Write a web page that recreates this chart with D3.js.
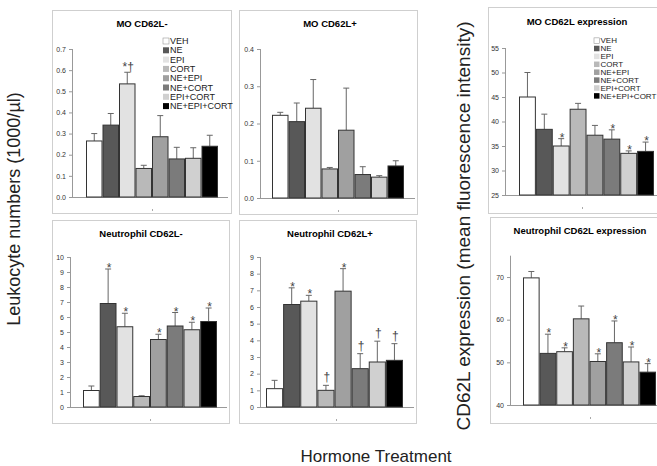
<!DOCTYPE html>
<html>
<head>
<meta charset="utf-8">
<script src="https://cdn.jsdelivr.net/npm/d3@7"></script>
<style>
  body { margin: 0; background: #fff; }
  svg { font-family: "Liberation Sans", Arial, sans-serif; }
  .frame { fill: #fff; stroke: #cfcfcf; stroke-width: 1; }
  .axis path, .axis line { stroke: #999; }
  .axis text { fill: #333; font-size: 7px; }
  .bar { stroke: #333; stroke-width: 1; }
  .err { stroke: #666; stroke-width: 1; }
  .title { font-size: 9.5px; font-weight: bold; text-anchor: middle; }
  .note { font-size: 12px; fill: #444; text-anchor: middle; }
  .legend text { fill: #222; }
  .big { fill: #222; }
</style>
</head>
<body>
<script>
// treatments (legend order)
var treatments = ['VEH', 'NE', 'EPI', 'CORT', 'NE+EPI', 'NE+CORT', 'EPI+CORT', 'NE+EPI+CORT'];
var fills = ['#ffffff', '#585858', '#e2e2e2', '#b9b9b9', '#a0a0a0', '#7b7b7b', '#d0d0d0', '#000000'];

// MO CD62L- (1000/ul)
var moNegMean = [0.265, 0.34, 0.535, 0.135, 0.285, 0.18, 0.183, 0.24];
var moNegErr  = [0.035, 0.055, 0.055, 0.015, 0.10, 0.055, 0.05, 0.052];
var moNegNote = ['', '', '*†', '', '', '', '', ''];

// MO CD62L+
var moPosMean = [0.222, 0.205, 0.241, 0.078, 0.182, 0.063, 0.056, 0.086];
var moPosErr  = [0.008, 0.05, 0.077, 0.004, 0.113, 0.021, 0.004, 0.014];
var moPosNote = ['', '', '', '', '', '', '', ''];

// MO CD62L expression (MFI)
var moExpMean = [45.0, 38.4, 35.0, 42.5, 37.2, 36.4, 33.5, 33.9];
var moExpErr  = [5.0, 3.1, 1.5, 1.2, 2.0, 1.9, 0.5, 1.9];
var moExpNote = ['', '', '*', '', '', '*', '*', '*'];

// Neutrophil CD62L-
var neNegMean = [1.1, 6.9, 5.35, 0.7, 4.5, 5.4, 5.15, 5.7];
var neNegErr  = [0.3, 2.3, 0.9, 0.05, 0.35, 0.9, 0.5, 0.9];
var neNegNote = ['', '*', '*', '', '*', '*', '*', '*'];

// Neutrophil CD62L+
var nePosMean = [1.1, 6.15, 6.35, 1.0, 6.95, 2.3, 2.7, 2.8];
var nePosErr  = [0.5, 1.0, 0.35, 0.3, 1.35, 0.9, 1.25, 1.0];
var nePosNote = ['', '*', '*', '†', '*', '†', '†', '†'];

// Neutrophil CD62L expression (MFI)
var neExpMean = [69.8, 52.1, 52.5, 60.2, 50.2, 54.6, 50.1, 47.7];
var neExpErr  = [1.5, 4.5, 0.9, 3.0, 1.8, 5.1, 3.5, 2.0];
var neExpNote = ['', '*', '*', '', '*', '*', '*', '*'];

var W = 657, H = 466;
var svg = d3.select('body').append('svg').attr('width', W).attr('height', H);

// layout of each panel: frame box, axis x, plot bottom/top, bar span
var panels = [
  {title: 'MO CD62L-', mean: moNegMean, err: moNegErr, note: moNegNote,
   frame: [52, 10, 231, 213], ax: 72, y: [197, 49], dom: [0, 0.7], ticks: d3.range(0, 0.71, 0.1), fmt: d3.format('.1f'),
   bars: [86, 218], right: 228, titleX: 142, titleY: 27, tickX: 152,
   legend: {x: 163, y: 41, step: 9.3, size: 6, font: 9}},
  {title: 'MO CD62L+', mean: moPosMean, err: moPosErr, note: moPosNote,
   frame: [239, 10, 417, 214], ax: 260, y: [198, 49], dom: [0, 0.4], ticks: [0, 0.1, 0.2, 0.3, 0.4], fmt: d3.format('.1f'),
   bars: [272, 404], right: 415, titleX: 330, titleY: 27, tickX: 338},
  {title: 'MO CD62L expression', mean: moExpMean, err: moExpErr, note: moExpNote,
   frame: [488, 7, 680, 213], ax: 505, y: [195, 48], dom: [25, 55], ticks: [25, 30, 35, 40, 45, 50, 55], fmt: d3.format('d'),
   bars: [519, 654], right: 660, titleX: 577, titleY: 25, tickX: 582,
   legend: {x: 594, y: 40.6, step: 7.9, size: 5.5, font: 8}},
  {title: 'Neutrophil CD62L-', mean: neNegMean, err: neNegErr, note: neNegNote,
   frame: [52, 220, 229, 423], ax: 70, y: [407, 257], dom: [0, 10], ticks: d3.range(0, 11), fmt: d3.format('d'),
   bars: [83, 217], right: 227, titleX: 141, titleY: 237, tickX: 150},
  {title: 'Neutrophil CD62L+', mean: nePosMean, err: nePosErr, note: nePosNote,
   frame: [239, 220, 416, 423], ax: 260, y: [407, 257], dom: [0, 9], ticks: d3.range(0, 10), fmt: d3.format('d'),
   bars: [266, 403], right: 414, titleX: 330, titleY: 237, tickX: 336},
  {title: 'Neutrophil CD62L expression', mean: neExpMean, err: neExpErr, note: neExpNote,
   frame: [490, 217, 680, 423], ax: 510, y: [405, 255.7], dom: [40, 75], ticks: [40, 50, 60, 70], fmt: d3.format('d'),
   bars: [523, 656], right: 660, titleX: 580, titleY: 234, tickX: 590}
];

panels.forEach(function(p) {
  var g = svg.append('g');
  g.append('rect').classed('frame', true)
    .attr('x', p.frame[0] + 0.5).attr('y', p.frame[1] + 0.5)
    .attr('width', p.frame[2] - p.frame[0]).attr('height', p.frame[3] - p.frame[1]);

  g.append('text').classed('title', true).attr('x', p.titleX).attr('y', p.titleY).text(p.title);

  var y = d3.scaleLinear().domain(p.dom).range(p.y);
  var x = d3.scaleBand().domain(treatments).range(p.bars).padding(0);

  g.append('g').classed('axis', true)
    .attr('transform', 'translate(' + p.ax + ',0)')
    .call(d3.axisLeft(y).tickValues(p.ticks).tickFormat(p.fmt).tickSize(3).tickSizeOuter(0))
    .call(function(a) { a.select('.domain').attr('d', 'M0.5,' + y(p.dom[1]) + 'V' + y(p.dom[0])); });

  // baseline
  g.append('line').attr('x1', p.ax).attr('x2', p.right)
    .attr('y1', y(p.dom[0]) + 0.5).attr('y2', y(p.dom[0]) + 0.5).attr('stroke', '#999');
  // tiny category tick
  g.append('line').attr('x1', p.tickX + 0.5).attr('x2', p.tickX + 0.5)
    .attr('y1', y(p.dom[0]) + 12).attr('y2', y(p.dom[0]) + 14).attr('stroke', '#aaa');

  var rows = treatments.map(function(t, i) {
    return {t: t, m: p.mean[i], e: p.err[i], n: p.note[i], f: fills[i]};
  });

  // error bars (upper only)
  var eb = g.selectAll('.eb').data(rows).enter().append('g');
  eb.append('line').classed('err', true)
    .attr('x1', function(d) { return x(d.t) + x.bandwidth() / 2; })
    .attr('x2', function(d) { return x(d.t) + x.bandwidth() / 2; })
    .attr('y1', function(d) { return y(d.m); })
    .attr('y2', function(d) { return y(d.m + d.e); });
  eb.append('line').classed('err', true)
    .attr('x1', function(d) { return x(d.t) + x.bandwidth() / 2 - 3; })
    .attr('x2', function(d) { return x(d.t) + x.bandwidth() / 2 + 3; })
    .attr('y1', function(d) { return y(d.m + d.e); })
    .attr('y2', function(d) { return y(d.m + d.e); });

  g.selectAll('.bar').data(rows).enter().append('rect').classed('bar', true)
    .attr('x', function(d) { return x(d.t) + 0.5; })
    .attr('y', function(d) { return y(d.m); })
    .attr('width', x.bandwidth() - 1)
    .attr('height', function(d) { return y(p.dom[0]) - y(d.m); })
    .attr('fill', function(d) { return d.f; });

  g.selectAll('.note').data(rows.filter(function(d) { return d.n; })).enter().append('text').classed('note', true)
    .attr('x', function(d) { return x(d.t) + x.bandwidth() / 2 + 1; })
    .attr('y', function(d) { return y(d.m + d.e) + (d.n === '†' ? -4 : d.n === '*†' ? -1 : 3); })
    .text(function(d) { return d.n; });

  if (p.legend) {
    var L = p.legend;
    var lg = g.append('g').classed('legend', true);
    var li = lg.selectAll('g').data(treatments).enter().append('g')
      .attr('transform', function(d, i) { return 'translate(' + L.x + ',' + (L.y + i * L.step) + ')'; });
    li.append('rect').attr('x', 0).attr('y', -L.size / 2).attr('width', L.size).attr('height', L.size)
      .attr('fill', function(d, i) { return fills[i]; })
      .attr('stroke', function(d, i) { return i === 0 ? '#999' : 'none'; }).attr('stroke-width', 0.6);
    li.append('text').attr('x', L.size + 1).attr('dy', '0.35em').style('font-size', L.font + 'px').text(function(d) { return d; });
  }
});

// shared axis titles
svg.append('text').classed('big', true).style('font-size', '18px')
  .attr('transform', 'translate(20,209) rotate(-90)').attr('text-anchor', 'middle')
  .text('Leukocyte numbers (1000/µl)');
svg.append('text').classed('big', true).style('font-size', '19px')
  .attr('transform', 'translate(470,226) rotate(-90)').attr('text-anchor', 'middle')
  .text('CD62L expression (mean fluorescence intensity)');
svg.append('text').classed('big', true).style('font-size', '17px')
  .attr('x', 376).attr('y', 462).attr('text-anchor', 'middle')
  .text('Hormone Treatment');
</script>
</body>
</html>
